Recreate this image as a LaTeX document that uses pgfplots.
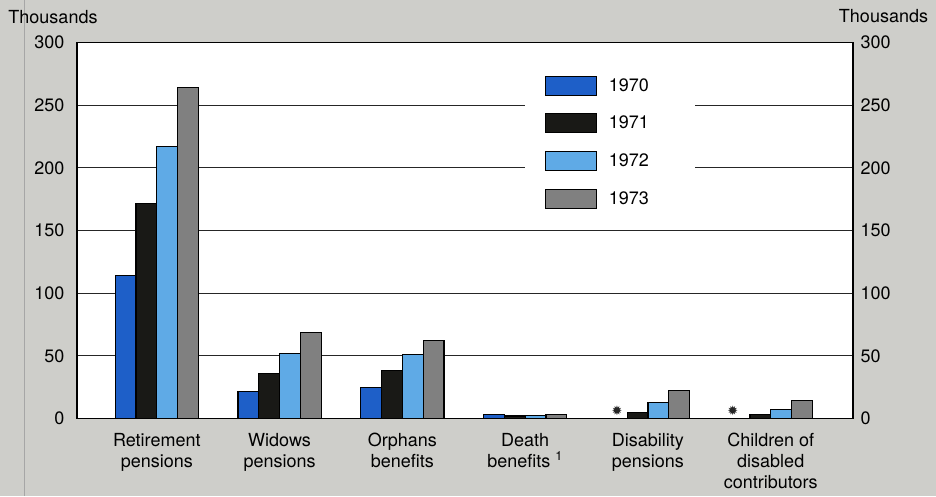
\documentclass[border=0pt]{standalone}
\usepackage{pgfplots}
\usepackage{pgfplotstable}
\pgfplotsset{compat=1.18}
\usepackage{fontspec}
\setmainfont{TeX Gyre Heros}
\newfontfamily\symfont{DejaVu Sans}
\definecolor{bg}{RGB}{206,206,202}
\definecolor{cA}{RGB}{30,95,200}
\definecolor{cB}{RGB}{25,25,22}
\definecolor{cC}{RGB}{95,170,230}
\definecolor{cD}{RGB}{128,128,128}
\pgfplotstableread{
x y70 y71 y72 y73
0 114 171.5 217 264
1 21.8 36 52 68.5
2 24.8 38.5 51 62
3 3 2 2.5 3.5
4 nan 4.5 13 22.5
5 nan 3.5 7 14.5
}\data
\newcommand{\lbl}{\fontsize{18}{21}\selectfont}
\pgfplotsset{boxlegend/.style={legend image code/.code={\draw[##1, line width=1pt] (0pt,-9.5pt) rectangle (51pt,9.5pt);}}}
\begin{document}
\begin{tikzpicture}
\fill[bg] (-77pt,-77pt) rectangle (859pt,418pt);
\draw[black!35, line width=1pt] (-52pt,-77pt) -- (-52pt,418pt);
\begin{axis}[
  at={(0pt,0pt)}, anchor=south west,
  scale only axis, width=776pt, height=376pt,
  xmin=-0.65, xmax=5.67, ymin=0, ymax=300,
  ybar=0pt, bar width=20.8pt,
  axis background/.style={fill=white},
  axis line style={line width=1.8pt, black},
  ytick={0,50,...,300}, ymajorgrids, grid style={line width=1.3pt, black!85},
  major tick length=0pt,
  xtick={0,...,5},
  xticklabels={{Retirement\\pensions},{Widows\\pensions},{Orphans\\benefits},{Death\\benefits \textsuperscript{1}},{Disability\\pensions},{Children of\\disabled\\contributors}},
  xticklabel style={align=center, font=\lbl, anchor=north, yshift=-11pt},
  yticklabel style={font=\lbl, xshift=-9pt},
  /pgf/number format/assume math mode=true,
  legend style={at={(0.577,0.947)}, anchor=north west, draw=none, fill=white,
    inner xsep=20pt, inner ysep=13pt, font=\lbl, row sep=17.7pt,
    nodes={inner sep=0pt}, cells={anchor=west},
    /tikz/every odd column/.append style={column sep=12pt}},
  clip=false,
]
\addplot[fill=cA, draw=black, line width=1.2pt, boxlegend] table[x=x,y=y70]{\data};
\addplot[fill=cB, draw=black, line width=1.2pt, boxlegend] table[x=x,y=y71]{\data};
\addplot[fill=cC, draw=black, line width=1.2pt, boxlegend] table[x=x,y=y72]{\data};
\addplot[fill=cD, draw=black, line width=1.2pt, boxlegend] table[x=x,y=y73]{\data};
\addlegendentry{1970\hspace*{26pt}}
\addlegendentry{1971\hspace*{26pt}}
\addlegendentry{1972\hspace*{26pt}}
\addlegendentry{1973\hspace*{26pt}}
\node[font=\symfont\fontsize{13}{13}\selectfont, text=black!85, inner sep=0pt] at (axis cs:4,0) [xshift=-31pt, yshift=8pt] {✹};
\node[font=\symfont\fontsize{13}{13}\selectfont, text=black!85, inner sep=0pt] at (axis cs:5,0) [xshift=-38pt, yshift=8pt] {✹};
\node[font=\lbl, anchor=base, inner sep=0pt] at (rel axis cs:0,1) [xshift=-24pt, yshift=19pt] {Thousands};
\node[font=\lbl, anchor=base, inner sep=0pt] at (rel axis cs:1,1) [xshift=30.5pt, yshift=20pt] {Thousands};
\end{axis}
\begin{axis}[
  at={(0pt,0pt)}, anchor=south west,
  scale only axis, width=776pt, height=376pt,
  xmin=-0.65, xmax=5.67, ymin=0, ymax=300,
  hide x axis, axis y line*=right, axis line style={draw=none},
  ytick={0,50,...,300}, major tick length=0pt,
  yticklabel style={font=\lbl, xshift=4pt},
  /pgf/number format/assume math mode=true,
]
\addplot[draw=none] coordinates {(0,0)};
\end{axis}
\end{tikzpicture}
\end{document}
